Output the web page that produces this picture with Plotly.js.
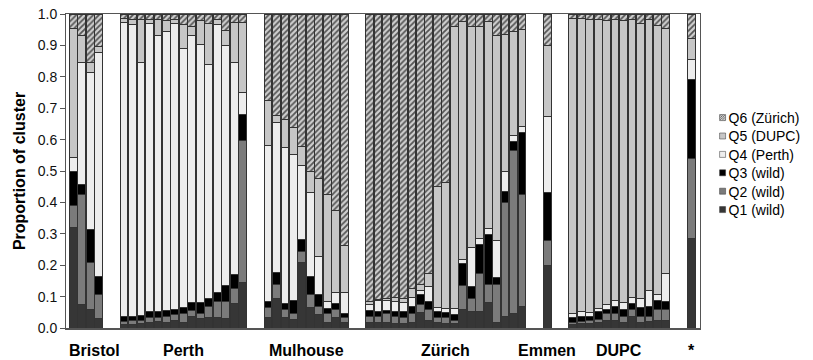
<!DOCTYPE html>
<html>
<head>
<meta charset="utf-8">
<script src="https://cdn.plot.ly/plotly-3.0.1.min.js"></script>
<style>html,body{margin:0;padding:0;background:#fff;}</style>
</head>
<body>
<div id="chart" style="width:813px;height:360px;"></div>
<script>
// ---- Data ----
const groupNames  = ["Bristol", "Perth", "Mulhouse", "Zürich", "Emmen", "DUPC", "*"];
const groupCounts = [4, 15, 10, 19, 1, 12, 1];

const seriesNames = ["Q1 (wild)", "Q2 (wild)", "Q3 (wild)", "Q4 (Perth)", "Q5 (DUPC)", "Q6 (Zürich)"];

const q1 = [0.32, 0.074, 0.059, 0.03,
  0.01, 0.01, 0.013, 0.019, 0.021, 0.019, 0.023, 0.019, 0.038, 0.03, 0.034, 0.034, 0.03, 0.078, 0.144,
  0.034, 0.093, 0.034, 0.028, 0.208, 0.064, 0.042, 0.019, 0.034, 0.019,
  0.017, 0.017, 0.017, 0.013, 0.013, 0.017, 0.049, 0.025, 0.017, 0.015, 0.015, 0.059, 0.051, 0.053, 0.081, 0.019, 0.036, 0.045, 0.068,
  0.199,
  0.01, 0.013, 0.013, 0.017, 0.025, 0.023, 0.017, 0.036, 0.017, 0.021, 0.025, 0.025,
  0.284];
const q2 = [0.07, 0.352, 0.151, 0.076,
  0.01, 0.013, 0.01, 0.015, 0.013, 0.019, 0.019, 0.028, 0.017, 0.015, 0.034, 0.051, 0.053, 0.047, 0.452,
  0.03, 0.047, 0.025, 0.019, 0.036, 0.042, 0.026, 0.026, 0.025, 0.015,
  0.021, 0.021, 0.028, 0.025, 0.021, 0.028, 0.027, 0.034, 0.017, 0.017, 0.008, 0.075, 0.042, 0.121, 0.059, 0.119, 0.363, 0.521, 0.358,
  0.079,
  0.009, 0.008, 0.01, 0.011, 0.022, 0.022, 0.021, 0.023, 0.021, 0.017, 0.034, 0.034,
  0.257];
const q3 = [0.108, 0.03, 0.104, 0.057,
  0.018, 0.015, 0.017, 0.017, 0.017, 0.017, 0.017, 0.017, 0.026, 0.036, 0.025, 0.027, 0.051, 0.045, 0.083,
  0.019, 0.038, 0.019, 0.04, 0.038, 0.059, 0.038, 0.017, 0.019, 0.013,
  0.017, 0.015, 0.012, 0.015, 0.017, 0.025, 0.032, 0.026, 0.017, 0.017, 0.019, 0.072, 0.038, 0.093, 0.159, 0.023, 0.036, 0.028, 0.198,
  0.155,
  0.015, 0.017, 0.015, 0.023, 0.012, 0.025, 0.021, 0.019, 0.028, 0.03, 0.028, 0.026,
  0.252];
const q4 = [0.045, 0.39, 0.5, 0.713,
  0.935, 0.927, 0.806, 0.92, 0.88, 0.889, 0.912, 0.825, 0.852, 0.823, 0.747, 0.855, 0.767, 0.676, 0.072,
  0.498, 0.475, 0.497, 0.464, 0.235, 0.266, 0.123, 0.023, 0.034, 0.065,
  0.021, 0.034, 0.03, 0.032, 0.03, 0.028, 0.013, 0.046, 0.013, 0.013, 0.02, 0.012, 0.126, 0.017, 0.019, 0.117, 0.063, 0.019, 0.019,
  0.239,
  0.013, 0.013, 0.011, 0.011, 0.017, 0.017, 0.022, 0.02, 0.029, 0.053, 0.019, 0.087,
  0.062];
const q5 = [0.411, 0.085, 0.032, 0.019,
  0.014, 0.019, 0.138, 0.013, 0.053, 0.034, 0.013, 0.076, 0.028, 0.076, 0.129, 0.017, 0.045, 0.127, 0.222,
  0.142, 0.024, 0.089, 0.087, 0.062, 0.069, 0.248, 0.341, 0.261, 0.151,
  0.007, 0.004, 0.006, 0.013, 0.014, 0.029, 0.019, 0.043, 0.388, 0.4, 0.899, 0.758, 0.704, 0.677, 0.658, 0.653, 0.437, 0.331, 0.307,
  0.227,
  0.939, 0.935, 0.935, 0.922, 0.904, 0.897, 0.897, 0.884, 0.874, 0.863, 0.857, 0.782,
  0.068];
const q6 = [0.046, 0.069, 0.154, 0.105,
  0.013, 0.016, 0.016, 0.016, 0.016, 0.022, 0.016, 0.035, 0.039, 0.02, 0.031, 0.016, 0.054, 0.027, 0.027,
  0.277, 0.323, 0.336, 0.362, 0.421, 0.5, 0.523, 0.574, 0.627, 0.737,
  0.917, 0.909, 0.907, 0.902, 0.905, 0.873, 0.86, 0.826, 0.548, 0.538, 0.039, 0.024, 0.039, 0.039, 0.024, 0.069, 0.065, 0.056, 0.05,
  0.101,
  0.014, 0.014, 0.016, 0.016, 0.02, 0.016, 0.022, 0.018, 0.031, 0.016, 0.037, 0.046,
  0.077];

const yTickVals = [0, 0.1, 0.2, 0.3, 0.4, 0.5, 0.6, 0.7, 0.8, 0.9, 1.0];

// ---- Styles ----
const fills = ["#363636", "#7b7b7b", "#000000", "#ededed", "#c6c6c6", "#cfcfcf"];
const FONT = "Liberation Sans, Arial, Helvetica, sans-serif";

// ---- Slot positions: samples side by side, two empty slots between populations ----
const GAP_SLOTS = 2;
const xs = [], centers = [];
let pos = 0;
groupCounts.forEach(n => {
  const start = pos;
  for (let i = 0; i < n; i++) xs.push(pos++);
  centers.push((start + pos - 1) / 2);
  pos += GAP_SLOTS;
});

const series = [q1, q2, q3, q4, q5, q6];
const traces = series.map((vals, k) => {
  const marker = { color: fills[k], line: { color: "#333333", width: 1 } };
  if (k === 5) {
    marker.pattern = { shape: "/", fgcolor: "#555555", bgcolor: "#cfcfcf", size: 4, solidity: 0.45 };
  }
  return { type: "bar", x: xs, y: vals, name: seriesNames[k], marker: marker, hoverinfo: "name+y" };
});

const xMin = -0.86, xMax = xs[xs.length - 1] + 1.03;

const annotations = groupNames.map((g, i) => {
  const leftOverflow = i === 0;
  return {
    text: "<b>" + g + "</b>",
    xref: "x", yref: "paper",
    x: leftOverflow ? xMin + 0.1 : centers[i],
    xanchor: leftOverflow ? "left" : "center",
    y: 0, yanchor: "middle", yshift: -22,
    showarrow: false,
    font: { family: FONT, size: 16, color: "#000" }
  };
});

const layout = {
  width: 813, height: 360,
  margin: { l: 66, r: 113, t: 14, b: 32, autoexpand: false },
  barmode: "stack",
  bargap: 0.08,
  paper_bgcolor: "#ffffff",
  plot_bgcolor: "#ffffff",
  font: { family: FONT, size: 14, color: "#000" },
  showlegend: true,
  legend: {
    x: 0.982, xanchor: "left", y: 0.50, yanchor: "middle",
    font: { family: FONT, size: 14, color: "#000" },
    bgcolor: "rgba(0,0,0,0)", borderwidth: 0, traceorder: "reversed"
  },
  xaxis: {
    range: [xMin, xMax], showticklabels: false, ticks: "",
    showgrid: false, zeroline: false,
    showline: true, linecolor: "#555", linewidth: 1.5, mirror: true
  },
  yaxis: {
    range: [0, 1], tickvals: yTickVals, tickformat: ".1f",
    ticks: "outside", ticklen: 5, tickcolor: "#555",
    tickfont: { family: FONT, size: 14, color: "#111" },
    showgrid: false, zeroline: false,
    showline: true, linecolor: "#555", linewidth: 1, mirror: true,
    title: { text: "<b>Proportion of cluster</b>", font: { family: FONT, size: 16, color: "#000" }, standoff: 8 }
  },
  annotations: annotations
};

Plotly.newPlot("chart", traces, layout, { displayModeBar: false, staticPlot: true }).then(gd => {
  // the reference uses small legend swatches sitting close to their labels,
  // with entries packed a little tighter than Plotly's default row height
  const rows = gd.querySelectorAll(".legend g.traces");
  let y0 = null;
  rows.forEach((g, i) => {
    const m = /translate\(\s*([-\d.]+)[ ,]+([-\d.]+)\s*\)/.exec(g.getAttribute("transform") || "");
    if (m) {
      if (y0 === null) y0 = parseFloat(m[2]);
      g.setAttribute("transform", "translate(" + m[1] + "," + (y0 + i * 18.4) + ")");
    }
    const txt = g.querySelector("text.legendtext");
    g.querySelectorAll(".legendpoints path").forEach(p => {
      p.setAttribute("transform", "scale(0.5)");
      if (!txt) return;
      const r = p.getBoundingClientRect();
      const t = txt.getBoundingClientRect();
      const dx = (t.left - 6) - (r.left + r.width / 2);
      p.setAttribute("transform", "translate(" + dx.toFixed(1) + ",0) scale(0.5)");
    });
  });
});
</script>
</body>
</html>
